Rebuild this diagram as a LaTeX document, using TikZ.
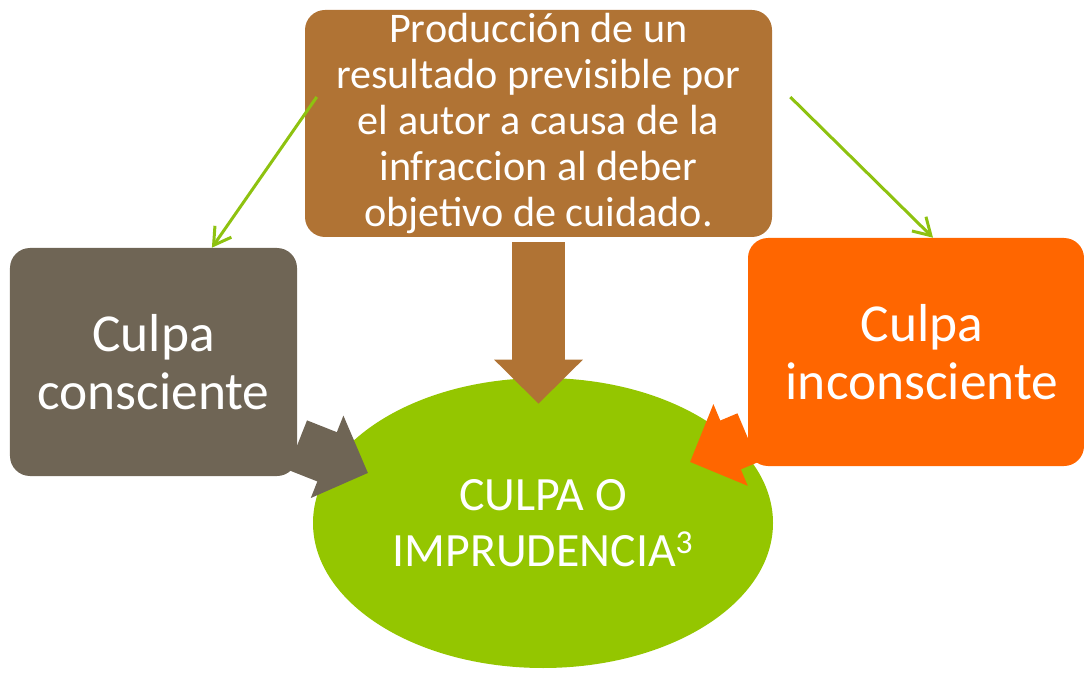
\documentclass[tikz,border=0pt]{standalone}
\usepackage{fontspec}
\setmainfont{Carlito}
\usetikzlibrary{shapes.geometric,arrows.meta,calc}
\definecolor{boxbrown}{RGB}{176,115,52}
\definecolor{boxgrey}{RGB}{111,101,85}
\definecolor{boxorange}{RGB}{255,102,0}
\definecolor{leafgreen}{RGB}{148,198,0}
\definecolor{linegreen}{RGB}{142,194,16}

\tikzset{
	box/.style={rectangle,rounded corners=0.5cm,text=white,align=center,inner sep=0pt},
	sidebox/.style={box,minimum height=5.7cm,font=\fontsize{38}{41}\selectfont},
	bigarrow/.style={line width=1.325cm,-{Triangle[length=1.1cm,width=2.15cm]}},
	thinarrow/.style={linegreen,line width=0.075cm,-{Straight Barb[length=0.42cm,width=0.5cm]}}
}

\begin{document}
\begin{tikzpicture}
	\useasboundingbox (0,0) rectangle (27.1,16.875);
	\node[ellipse,fill=leafgreen,text=white,align=center,minimum width=11.5cm,minimum height=7.25cm,font=\fontsize{34}{40}\selectfont] (imp) at (13.575,3.8) {CULPA O\\IMPRUDENCIA\textsuperscript{3}};
	\node[box,fill=boxbrown,minimum width=11.675cm,minimum height=5.675cm,font=\fontsize{30}{32.7}\selectfont] (top) at (13.4625,13.7875) {Producción de un\\resultado previsible por\\el autor a causa de la\\infraccion al deber\\objetivo de cuidado.};
	\node[sidebox,fill=boxgrey,minimum width=7.175cm] (cons) at (3.8375,7.825) {Culpa\\consciente};
	\node[sidebox,fill=boxorange,minimum width=8.4cm] (incons) at (22.9,8.075) {\hspace*{0.3cm}Culpa\\\hspace*{0.3cm}inconsciente};
	\coordinate (greytip) at (9.2,5.05);
	\coordinate (orangetip) at (17.25,5.325);
	\draw[bigarrow,boxbrown,shorten <=0.125cm,shorten >=-0.65cm] (top.south) -- (top.south |- imp.north);
	\draw[bigarrow,boxgrey] (cons.-30) -- (greytip);
	\draw[bigarrow,boxorange] (incons.207) -- (orangetip);
	\draw[thinarrow] ([xshift=0.3cm,yshift=0.6625cm]top.west) -- ([xshift=1.46cm]cons.north);
	\draw[thinarrow] ([xshift=0.45cm,yshift=0.6625cm]top.east) -- ([xshift=0.425cm]incons.north);
\end{tikzpicture}
\end{document}
